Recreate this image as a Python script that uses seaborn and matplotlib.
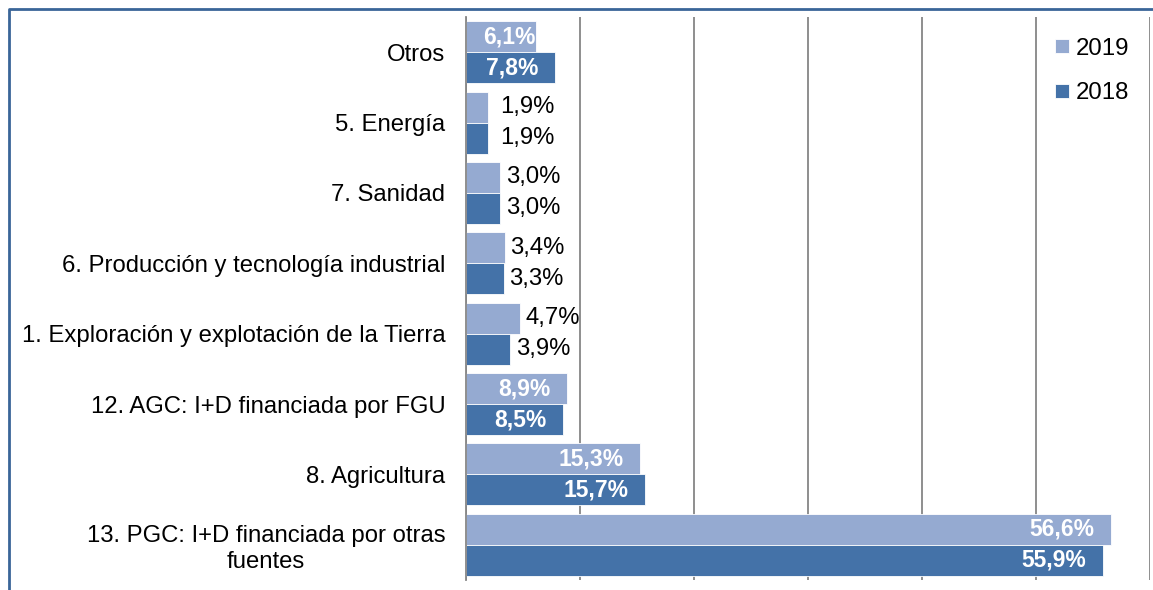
import matplotlib
matplotlib.use("Agg")
import matplotlib.pyplot as plt
from matplotlib.lines import Line2D
from matplotlib.ticker import MultipleLocator, FixedLocator
import pandas as pd
import seaborn as sns

categories = [
    "Otros",
    "5. Energía",
    "7. Sanidad",
    "6. Producción y tecnología industrial",
    "1. Exploración y explotación de la Tierra",
    "12. AGC: I+D financiada por FGU",
    "8. Agricultura",
    "13. PGC: I+D financiada por otras\nfuentes",
]
values_2019 = [6.1, 1.9, 3.0, 3.4, 4.7, 8.9, 15.3, 56.6]
values_2018 = [7.8, 1.9, 3.0, 3.3, 3.9, 8.5, 15.7, 55.9]
years = ["2019", "2018"]

df = pd.DataFrame({
    "categoria": categories * 2,
    "valor": values_2019 + values_2018,
    "año": ["2019"] * len(categories) + ["2018"] * len(categories),
})

sns.set_style("white")
plt.rcParams["font.family"] = ["Liberation Sans", "DejaVu Sans"]
plt.rcParams["text.color"] = "black"
plt.rcParams["ytick.labelcolor"] = "black"

W, H = 1153, 590
fig = plt.figure(figsize=(W / 100, H / 100), dpi=100)
ax = fig.add_axes([466 / W, 10 / H, (1150 - 466) / W, (580 - 17) / H])

sns.barplot(
    data=df, x="valor", y="categoria", hue="año", order=categories,
    hue_order=years, palette=["#95aad1", "#4472a8"], width=0.88,
    saturation=1, errorbar=None, edgecolor="white", linewidth=0.6, ax=ax,
)

gray = "#868686"
ax.set_xlim(0, 60)
ax.set_ylim(len(categories) - 0.5, -0.5)
ax.xaxis.set_major_locator(MultipleLocator(10))
ax.grid(axis="x", color=gray, linewidth=1.3)
ax.grid(axis="y", visible=False)
ax.set_axisbelow(True)
for side in ["top", "right", "bottom"]:
    ax.spines[side].set_visible(False)
ax.spines["left"].set_color(gray)
ax.spines["left"].set_linewidth(1.3)

ax.tick_params(axis="x", length=4, width=1.3, color=gray, labelbottom=False)
ax.yaxis.set_minor_locator(FixedLocator([i - 0.5 for i in range(len(categories) + 1)]))
ax.tick_params(axis="y", which="major", length=0, pad=15, labelsize=17.2,
               labelcolor="black")
ax.tick_params(axis="y", which="minor", length=6, width=1.3, color=gray)
ax.set_xlabel("")
ax.set_ylabel("")
ax.get_yticklabels()[-1].set_multialignment("center")

# etiquetas de datos
for cont in ax.containers:
    for bar in cont:
        v = bar.get_width()
        y = bar.get_y() + bar.get_height() / 2
        txt = f"{v:.1f}%".replace(".", ",")
        if v >= 6:
            off = -12 if v >= 7 else 0
            ax.annotate(txt, (v, y), xytext=(off, 0), textcoords="offset points",
                        ha="right", va="center", color="white",
                        fontweight="bold", fontsize=16.5)
        else:
            off = 9 if v < 2.5 else 4
            ax.annotate(txt, (v, y), xytext=(off, 0), textcoords="offset points",
                        ha="left", va="center", color="black", fontsize=17.2)

handles, labels = ax.get_legend_handles_labels()
ax.legend(handles, labels, loc="upper right",
          bbox_to_anchor=(1151 / W, 1 - 16 / H), bbox_transform=fig.transFigure,
          frameon=False, fontsize=17.3, handlelength=0.55, handleheight=0.55,
          handletextpad=0.3, labelspacing=0.95)

fig.add_artist(Line2D([8.5 / W, 8.5 / W, 1], [0, 1 - 8.5 / H, 1 - 8.5 / H],
                      transform=fig.transFigure, color="#3a6598", linewidth=2))

fig.savefig("out.png", dpi=100)
